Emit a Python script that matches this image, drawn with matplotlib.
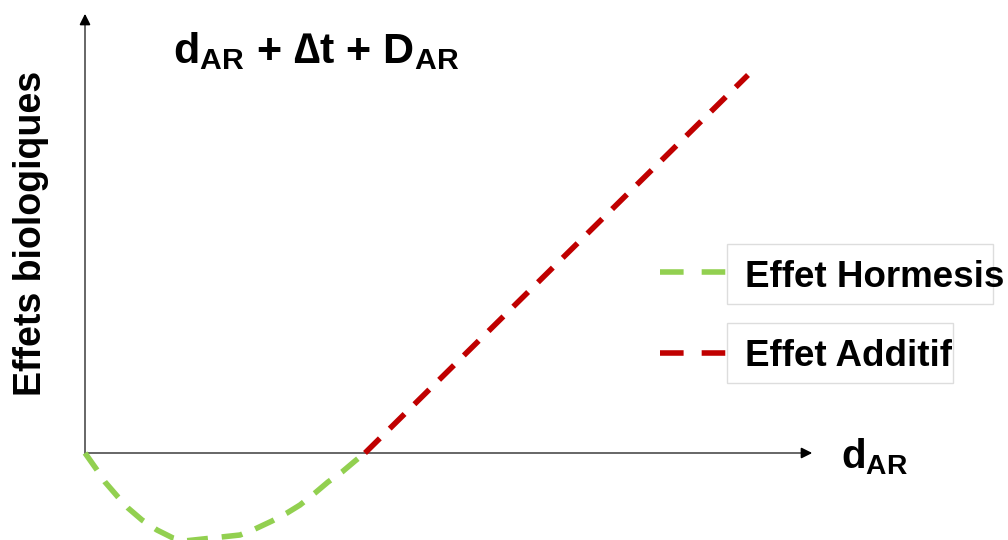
import matplotlib
matplotlib.use("Agg")
import matplotlib.pyplot as plt
from matplotlib.lines import Line2D
from matplotlib.patches import Rectangle

plt.rcParams['font.family'] = ['Liberation Sans', 'DejaVu Sans']
plt.rcParams['mathtext.fontset'] = 'custom'
plt.rcParams['mathtext.rm'] = 'Liberation Sans:bold'
plt.rcParams['mathtext.bf'] = 'Liberation Sans:bold'
plt.rcParams['mathtext.it'] = 'Liberation Sans:bold'
plt.rcParams['lines.scale_dashes'] = False

# Hormesis branch (dose, effect)
hormesis_x = [0.00, 0.12, 0.20, 0.33, 0.43, 0.57, 0.72, 0.88, 1.03, 1.22, 1.37,
              1.55, 1.70, 1.87, 2.02, 2.15, 2.30, 2.43, 2.57, 2.70, 2.80]
hormesis_y = [0.00, -0.17, -0.29, -0.44, -0.55, -0.67, -0.77, -0.85, -0.89, -0.90, -0.88,
              -0.82, -0.76, -0.68, -0.60, -0.52, -0.40, -0.29, -0.19, -0.08, 0.00]
# Additive branch
additive_x = [2.80, 6.63]
additive_y = [0.00, 3.78]

title_text = r'd$_{\mathbf{AR}}$ + ∆t + D$_{\mathbf{AR}}$'
ylabel_text = 'Effets biologiques'
xlabel_text = r'd$_{\mathbf{AR}}$'
legend_labels = ['Effet Hormesis', 'Effet Additif']

green = '#92D050'
red = '#C00000'

fig = plt.figure(figsize=(10.08, 5.4), dpi=100)
ax = fig.add_axes([0, 0, 1, 1])
ax.set_xlim(-0.85, 9.23)
ax.set_ylim(-0.87, 4.53)
ax.axis('off')

# axes with arrows
ax.plot([0, 0], [0, 4.30], color='#666666', lw=1.4, zorder=1)
ax.plot([0, 7.20], [0, 0], color='#666666', lw=1.4, zorder=1)
ax.annotate('', xy=(0, 4.42), xytext=(0, 4.26),
            arrowprops=dict(arrowstyle='-|>', color='black', lw=1.2, mutation_scale=16))
ax.annotate('', xy=(7.30, 0), xytext=(7.14, 0),
            arrowprops=dict(arrowstyle='-|>', color='black', lw=1.2, mutation_scale=16))

ls_kw = dict(lw=4.0, solid_capstyle='butt', dash_capstyle='butt')
l1, = ax.plot(hormesis_x, hormesis_y, color=green, zorder=3, **ls_kw)
l1.set_dashes([15, 10])
l2, = ax.plot(additive_x, additive_y, color=red, zorder=3, **ls_kw)
l2.set_dashes([15, 10])

ax.text(0.88, 3.90, title_text, fontsize=31, fontweight='bold', ha='left', va='baseline')
ax.text(-0.54, 2.20, ylabel_text, fontsize=27, fontweight='bold', rotation=90,
        ha='center', va='center')
ax.text(7.56, -0.15, xlabel_text, fontsize=29, fontweight='bold', ha='left', va='baseline')

# legend
box_w = [266, 226]
for i, (lab, col) in enumerate(zip(legend_labels, [green, red])):
    y_px = 272 + i * 81
    y_fig = 1 - y_px / 540
    ln = Line2D([660 / 1008, 726 / 1008], [y_fig, y_fig], transform=fig.transFigure,
                color=col, lw=4.0, solid_capstyle='butt', dash_capstyle='butt')
    ln.set_dashes([17, 13])
    fig.add_artist(ln)
    top = 244 + i * 79
    rect = Rectangle((727 / 1008, 1 - (top + 60) / 540), box_w[i] / 1008, 60 / 540,
                     transform=fig.transFigure, fc='white', ec='#dddddd', lw=1.0)
    fig.add_artist(rect)
    fig.text(745 / 1008, 1 - (287 + i * 79) / 540, lab, fontsize=26.5, fontweight='bold',
             ha='left', va='baseline', zorder=5)

fig.savefig('out.png', dpi=100)
